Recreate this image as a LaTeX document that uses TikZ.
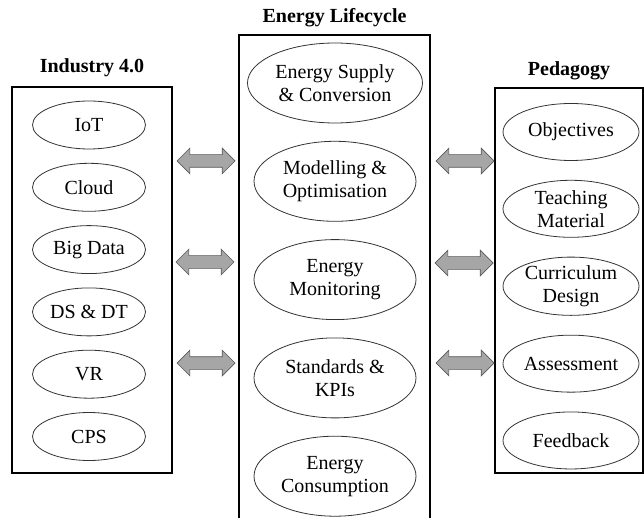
\documentclass[tikz,border=0pt]{standalone}
\usepackage{fontspec}
\setmainfont{Liberation Serif}
\usepackage{tikz}
\usetikzlibrary{shapes.geometric, shapes.arrows, positioning}

\begin{document}
\begin{tikzpicture}[
  x=1pt, y=-1pt,
  every node/.style = {font=\fontsize{20}{23}\selectfont},
  frame/.style      = {rectangle, draw=black, line width=1.2pt, inner sep=0pt},
  title/.style      = {font=\fontsize{20}{23}\selectfont\bfseries, inner sep=0pt},
  techell/.style    = {ellipse, draw=black!80, line width=0.8pt, inner sep=0pt,
                       minimum width=113pt, minimum height=48pt, align=center},
  lifeell/.style    = {ellipse, draw=black!80, line width=0.8pt, inner sep=0pt,
                       minimum width=162pt, minimum height=80pt, align=center},
  pedell/.style     = {ellipse, draw=black!80, line width=0.8pt, inner sep=0pt,
                       minimum width=136pt, minimum height=57pt, align=center},
  link/.style       = {double arrow, draw=black!65, fill=black!35, line width=0.7pt,
                       minimum height=58pt, inner sep=6pt,
                       double arrow head extend=6.5pt}
]
\useasboundingbox (0,0) rectangle (644,518);

% ── Frames ────────────────────────────────────────────────────────────────────
\node[frame, minimum width=160pt, minimum height=386pt] (ind)  at (92,280)    {};
\node[frame, minimum width=191pt, minimum height=495pt] (life) at (334.5,282.5) {};
\node[frame, minimum width=148pt, minimum height=385pt] (ped)  at (569,280.5) {};

% ── Titles ────────────────────────────────────────────────────────────────────
\node[title, above=9pt of ind]  (indtitle)  {Industry 4.0};
\node[title, above=7pt of life] (lifetitle) {Energy Lifecycle};
\node[title, above=7pt of ped]  (pedtitle)  {Pedagogy};

% ── Industry 4.0 column ──────────────────────────────────────────────────────
\node[techell] (iot) at (89,125) {IoT};
\node[techell, below=13.5pt of iot]   (cloud) {Cloud};
\node[techell, below=13.5pt of cloud] (bigdata) {Big Data};
\node[techell, below=13.5pt of bigdata] (dsdt) {DS \& DT};
\node[techell, below=13.5pt of dsdt]  (vr)    {VR};
\node[techell, below=13.5pt of vr]    (cps)   {CPS};

% ── Energy lifecycle column ──────────────────────────────────────────────────
\node[lifeell, minimum width=175pt] (supply) at (335,83) {Energy Supply\\\& Conversion};
\node[lifeell, below=17.5pt of supply]  (modelling)   {Modelling \&\\Optimisation};
\node[lifeell, below=17.5pt of modelling] (monitoring) {Energy\\Monitoring};
\node[lifeell, below=17.5pt of monitoring] (standards) {Standards \&\\KPIs};
\node[lifeell, below=17.5pt of standards] (consumption) {Energy\\Consumption};

% ── Pedagogy column ──────────────────────────────────────────────────────────
\node[pedell] (objectives) at (571,132) {Objectives};
\node[pedell, below=19pt of objectives] (material)   {Teaching\\Material};
\node[pedell, below=19pt of material]   (curriculum) {Curriculum\\Design};
\node[pedell, below=19pt of curriculum] (assessment) {Assessment};
\node[pedell, below=19pt of assessment] (feedback)   {Feedback};

% ── Links between columns ────────────────────────────────────────────────────
\node[link] (linkla) at (206,161) {};
\node[link] (linklb) at (205,262) {};
\node[link] (linklc) at (206,363) {};
\node[link] (linkra) at (465,161) {};
\node[link] (linkrb) at (464,263) {};
\node[link] (linkrc) at (465,363) {};
\end{tikzpicture}
\end{document}
